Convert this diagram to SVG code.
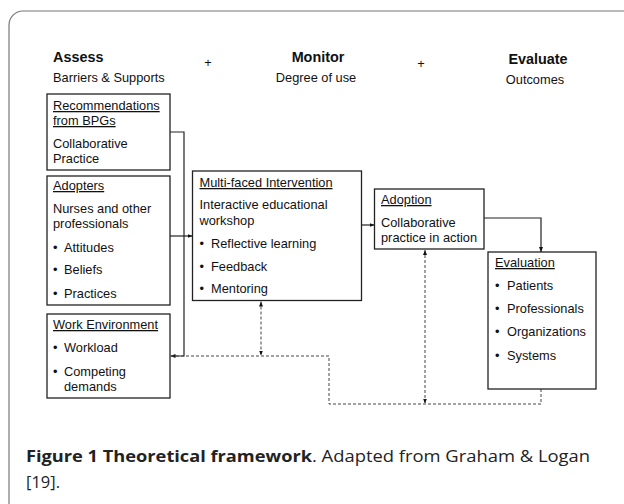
<svg xmlns="http://www.w3.org/2000/svg" width="624" height="504" viewBox="0 0 624 504">
<style>
.t{font-family:"Liberation Sans",Arial,sans-serif;font-size:12.8px;fill:#111}
.h{font-family:"Liberation Sans",Arial,sans-serif;font-size:14.4px;font-weight:bold;fill:#111}
.u{text-decoration:underline}
.box{fill:#fff;stroke:#222;stroke-width:1.3}
.c{fill:none;stroke:#222;stroke-width:1.2}
.d{fill:none;stroke:#444;stroke-width:1;stroke-dasharray:3 2}
.cap{font-family:"Open Sans","Noto Sans",sans-serif;font-size:16.5px;fill:#222}
</style>
<defs>
<marker id="ah" viewBox="0 0 10 10" refX="10" refY="5" markerWidth="5" markerHeight="5" markerUnits="userSpaceOnUse" orient="auto-start-reverse"><path d="M0,1 L10,5 L0,9 z" fill="#111"/></marker>
</defs>
<rect width="624" height="504" fill="#fff"/>
<path d="M9,520 V25 A14,14 0 0 1 23,11 H640" fill="none" stroke="#777" stroke-width="1.2"/>

<g id="header">
<text class="h" x="53" y="62">Assess</text>
<text class="t" x="53" y="82">Barriers &amp; Supports</text>
<text class="t" x="208" y="67" text-anchor="middle">+</text>
<text class="h" x="318" y="62" text-anchor="middle">Monitor</text>
<text class="t" x="316" y="82" text-anchor="middle">Degree of use</text>
<text class="t" x="421" y="68" text-anchor="middle">+</text>
<text class="h" x="538" y="64" text-anchor="middle">Evaluate</text>
<text class="t" x="535" y="84" text-anchor="middle">Outcomes</text>
</g>

<g id="connectors">
<path class="c" d="M170,132 H184 V356 H170.5" marker-end="url(#ah)"/>
<path class="c" d="M170,236 H192.5" marker-end="url(#ah)"/>
<path class="c" d="M362,225 H374.5" marker-end="url(#ah)"/>
<path class="c" d="M484,218 H541 V252" marker-end="url(#ah)"/>
<path class="d" d="M541,389 V404 H329 V356 H172"/>
<path class="d" d="M261,301.5 V355.5" marker-start="url(#ah)" marker-end="url(#ah)"/>
<path class="d" d="M425,250 V403.5" marker-start="url(#ah)" marker-end="url(#ah)"/>
</g>

<g id="recommendations">
<rect class="box" x="47" y="94" width="123" height="76"/>
<text class="t u" x="53" y="110">Recommendations</text>
<text class="t u" x="53" y="125">from BPGs</text>
<text class="t" x="53" y="148">Collaborative</text>
<text class="t" x="53" y="163">Practice</text>
</g>

<g id="adopters">
<rect class="box" x="47" y="176" width="123" height="129"/>
<text class="t u" x="53" y="190">Adopters</text>
<text class="t" x="53" y="213">Nurses and other</text>
<text class="t" x="53" y="228">professionals</text>
<text class="t" x="53" y="252">•</text><text class="t" x="64" y="252">Attitudes</text>
<text class="t" x="53" y="274">•</text><text class="t" x="64" y="274">Beliefs</text>
<text class="t" x="53" y="298">•</text><text class="t" x="64" y="298">Practices</text>
</g>

<g id="work-environment">
<rect class="box" x="47" y="314" width="123" height="84"/>
<text class="t u" x="53" y="329">Work Environment</text>
<text class="t" x="53" y="352">•</text><text class="t" x="64" y="352">Workload</text>
<text class="t" x="53" y="376">•</text><text class="t" x="64" y="376">Competing</text>
<text class="t" x="64" y="391">demands</text>
</g>

<g id="intervention">
<rect class="box" x="192.5" y="171" width="169" height="129.5"/>
<text class="t u" x="199.5" y="187">Multi-faced Intervention</text>
<text class="t" x="199.5" y="209">Interactive educational</text>
<text class="t" x="199.5" y="225">workshop</text>
<text class="t" x="199.5" y="248">•</text><text class="t" x="211" y="248">Reflective learning</text>
<text class="t" x="199.5" y="271">•</text><text class="t" x="211" y="271">Feedback</text>
<text class="t" x="199.5" y="293">•</text><text class="t" x="211" y="293">Mentoring</text>
</g>

<g id="adoption">
<rect class="box" x="374.5" y="189" width="109.5" height="60"/>
<text class="t u" x="381" y="204">Adoption</text>
<text class="t" x="381" y="227">Collaborative</text>
<text class="t" x="381" y="242">practice in action</text>
</g>

<g id="evaluation">
<rect class="box" x="488" y="252" width="108" height="137"/>
<text class="t u" x="495" y="267">Evaluation</text>
<text class="t" x="495" y="290">•</text><text class="t" x="507" y="290">Patients</text>
<text class="t" x="495" y="313">•</text><text class="t" x="507" y="313">Professionals</text>
<text class="t" x="495" y="336">•</text><text class="t" x="507" y="336">Organizations</text>
<text class="t" x="495" y="360">•</text><text class="t" x="507" y="360">Systems</text>
</g>

<g id="caption">
<text class="cap" x="26" y="462" font-weight="bold" textLength="286" lengthAdjust="spacingAndGlyphs">Figure 1 Theoretical framework</text>
<text class="cap" x="312" y="462" textLength="278" lengthAdjust="spacingAndGlyphs">. Adapted from Graham &amp; Logan</text>
<text class="cap" x="26" y="488">[19].</text>
</g>
</svg>
